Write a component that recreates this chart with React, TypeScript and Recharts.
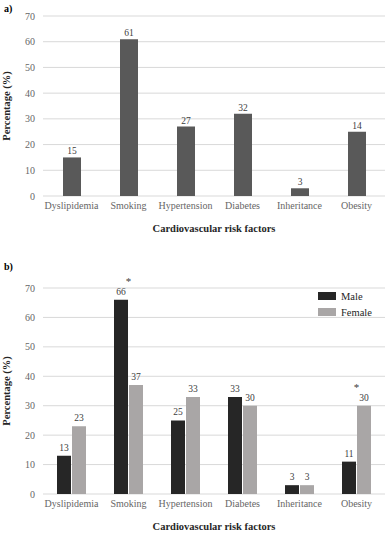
import React from "react";
import {
  BarChart,
  Bar,
  XAxis,
  YAxis,
  CartesianGrid,
  LabelList,
} from "recharts";

const categories = [
  "Dyslipidemia",
  "Smoking",
  "Hypertension",
  "Diabetes",
  "Inheritance",
  "Obesity",
];

// panel a: bar heights and the numbers printed above them
const totalValues = [15, 61, 27, 32, 3, 25];
const totalLabels = ["15", "61", "27", "32", "3", "14"];

// panel b
const maleValues = [13, 66, 25, 33, 3, 11];
const femaleValues = [23, 37, 33, 30, 3, 30];
const significant = [false, true, false, false, false, true];

const yTicks = [0, 10, 20, 30, 40, 50, 60, 70];

const FONT = "Liberation Serif";
const TICK_COLOR = "#666666";

const dataA = categories.map((name, i) => ({
  name,
  value: totalValues[i],
  label: totalLabels[i],
}));

const dataB = categories.map((name, i) => ({
  name,
  male: maleValues[i],
  female: femaleValues[i],
}));

const SERIES_B = [
  { key: "male", name: "Male", color: "#262626" },
  { key: "female", name: "Female", color: "#a9a6a6" },
];

const tickStyle = { fill: TICK_COLOR, fontSize: 10, fontFamily: FONT };
const labelStyle = { fill: "#404040", fontSize: 9.5, fontFamily: FONT };

const yLabel = {
  value: "Percentage (%)",
  angle: -90,
  position: "insideLeft" as const,
  offset: 6,
  fontFamily: FONT,
  fontWeight: "bold",
  fontSize: 10.5,
  fill: "#262626",
  style: { textAnchor: "middle" },
};

const xLabel = {
  value: "Cardiovascular risk factors",
  position: "insideBottom" as const,
  offset: 4,
  fontFamily: FONT,
  fontWeight: "bold",
  fontSize: 10.5,
  fill: "#262626",
};

const SigMark = (props: any) => {
  const { x, y, width, height, value, index } = props;
  if (!significant[index]) return null;
  const ppu = height / value;
  const top = y + height - Math.max(maleValues[index], femaleValues[index]) * ppu;
  return (
    <text
      x={x + width + 0.5}
      y={top - 15}
      textAnchor="middle"
      fill="#404040"
      fontSize={11}
      fontFamily={FONT}
    >
      *
    </text>
  );
};

export default function App() {
  return (
    <div
      style={{
        position: "absolute",
        left: 0,
        top: 0,
        width: 387,
        height: 535,
        background: "#fff",
        fontFamily: FONT,
      }}
    >
      <div style={{ position: "absolute", left: 4, top: 3, fontWeight: "bold", fontSize: 10 }}>a)</div>
      <div style={{ position: "absolute", left: 0, top: 0 }}>
        <BarChart width={387} height={236} data={dataA} margin={{ top: 16, right: 2, bottom: 0, left: 0 }}>
          <CartesianGrid vertical={false} stroke="#d9d9d9" />
          <XAxis
            dataKey="name"
            axisLine={false}
            tickLine={false}
            tickSize={4}
            tickMargin={2}
            height={40}
            interval={0}
            tick={tickStyle}
            label={xLabel}
          />
          <YAxis
            domain={[0, 70]}
            ticks={yTicks}
            axisLine={false}
            tickLine={false}
            width={43}
            tick={tickStyle}
            label={yLabel}
          />
          <Bar dataKey="value" fill="#595959" barSize={18} isAnimationActive={false}>
            <LabelList dataKey="label" position="top" offset={3} style={labelStyle} />
          </Bar>
        </BarChart>
      </div>

      <div style={{ position: "absolute", left: 4, top: 261, fontWeight: "bold", fontSize: 10 }}>b)</div>
      <div style={{ position: "absolute", left: 0, top: 258 }}>
        <BarChart
          width={387}
          height={276}
          data={dataB}
          margin={{ top: 30, right: 2, bottom: 0, left: 0 }}
          barGap={1}
        >
          <CartesianGrid vertical={false} stroke="#d9d9d9" />
          <XAxis
            dataKey="name"
            axisLine={false}
            tickLine={false}
            tickSize={4}
            tickMargin={2}
            height={40}
            interval={0}
            tick={tickStyle}
            label={xLabel}
          />
          <YAxis
            domain={[0, 70]}
            ticks={yTicks}
            axisLine={false}
            tickLine={false}
            width={43}
            tick={tickStyle}
            label={yLabel}
          />
          {SERIES_B.map((s) => (
            <Bar
              key={s.key}
              dataKey={s.key}
              name={s.name}
              fill={s.color}
              barSize={14}
              isAnimationActive={false}
            >
              <LabelList dataKey={s.key} position="top" offset={5} style={labelStyle} />
              {s.key === "male" && <LabelList dataKey="male" content={<SigMark />} />}
            </Bar>
          ))}
        </BarChart>
      </div>

      <div style={{ position: "absolute", left: 318, top: 288, fontSize: 10.5, color: "#262626" }}>
        {SERIES_B.map((s) => (
          <div key={s.key} style={{ display: "flex", alignItems: "center", height: 16 }}>
            <span
              style={{ display: "inline-block", width: 18, height: 8, background: s.color, marginRight: 5 }}
            />
            {s.name}
          </div>
        ))}
      </div>
    </div>
  );
}
